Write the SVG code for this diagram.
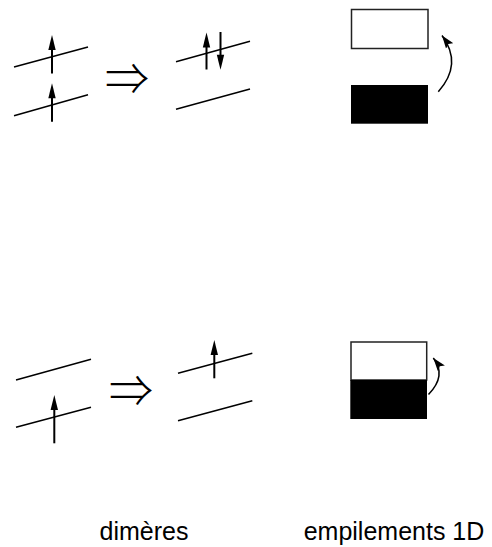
<svg xmlns="http://www.w3.org/2000/svg" width="492" height="547" viewBox="0 0 492 547">
<style>
  .ln { stroke: #000; stroke-width: 1.5; fill: none; }
  .sh { stroke: #000; stroke-width: 2; fill: none; }
  .hd { fill: #000; stroke: none; }
  .imp { font-family: "Noto Sans CJK JP", "DejaVu Sans", sans-serif; font-weight: 300; font-size: 44px; fill: #000; }
  .lbl { font-family: "Liberation Sans", Arial, sans-serif; font-size: 25px; fill: #000; text-anchor: middle; }
  .wb { fill: #fff; stroke: #222; stroke-width: 1.5; }
  .bb { fill: #000; stroke: none; }
</style>
<defs>
  <marker id="cah" markerUnits="userSpaceOnUse" markerWidth="14" markerHeight="10" viewBox="0 0 14 10" refX="13" refY="5" orient="auto">
    <path d="M0,0.5 L13,5 L0,9.5 L2.5,5 Z" fill="#000"/>
  </marker>
</defs>
<rect width="492" height="547" fill="#fff"/>

<g id="dimer-top-before">
  <line class="ln" x1="14" y1="67" x2="88" y2="47"/>
  <line class="ln" x1="14" y1="115.7" x2="88" y2="94.7"/>
  <line class="sh" x1="52" y1="73.5" x2="52" y2="45"/>
  <polygon class="hd" points="52,35 48.3,50 55.7,50"/>
  <line class="sh" x1="52" y1="121.7" x2="52" y2="93"/>
  <polygon class="hd" points="52,83.3 48.3,98.3 55.7,98.3"/>
</g>

<g id="implies-top">
  <text class="imp" x="105" y="95">⇒</text>
</g>

<g id="dimer-top-after">
  <line class="ln" x1="176" y1="61.7" x2="250" y2="41.3"/>
  <line class="ln" x1="176" y1="109.3" x2="250" y2="89"/>
  <line class="sh" x1="206.5" y1="69.5" x2="206.5" y2="42"/>
  <polygon class="hd" points="206.5,32.5 202.8,47.5 210.2,47.5"/>
  <line class="sh" x1="220.5" y1="32" x2="220.5" y2="60"/>
  <polygon class="hd" points="220.5,69.8 216.8,54.8 224.2,54.8"/>
</g>

<g id="stack-top">
  <rect class="wb" x="351.5" y="9.5" width="76.5" height="39"/>
  <rect class="bb" x="351" y="85" width="77" height="38.7"/>
</g>

<g id="dimer-bottom-before">
  <line class="ln" x1="16" y1="380" x2="91" y2="359.3"/>
  <line class="ln" x1="16" y1="427.3" x2="91" y2="407.3"/>
  <line class="sh" x1="54.3" y1="443.3" x2="54.3" y2="405"/>
  <polygon class="hd" points="54.3,395 50.6,410 58,410"/>
</g>

<g id="implies-bottom">
  <text class="imp" x="109" y="407">⇒</text>
</g>

<g id="dimer-bottom-after">
  <line class="ln" x1="178" y1="373.3" x2="252.3" y2="353.3"/>
  <line class="ln" x1="178" y1="420.7" x2="252.3" y2="400.7"/>
  <line class="sh" x1="214.3" y1="378.3" x2="214.3" y2="350"/>
  <polygon class="hd" points="214.3,340 210.6,355 218,355"/>
</g>

<g id="stack-bottom">
  <rect class="wb" x="351" y="342" width="75.7" height="38"/>
  <rect class="bb" x="350.3" y="380" width="76.7" height="39"/>
</g>

<g id="connectors">
  <path class="ln" d="M438.3,91.7 Q463,64 442,35.5" marker-end="url(#cah)"/>
  <path class="ln" d="M428.5,394.5 Q447,375.4 433.3,358" marker-end="url(#cah)"/>
</g>

<g id="labels">
  <text class="lbl" x="144" y="540">dimères</text>
  <text class="lbl" x="394" y="540">empilements 1D</text>
</g>
</svg>
